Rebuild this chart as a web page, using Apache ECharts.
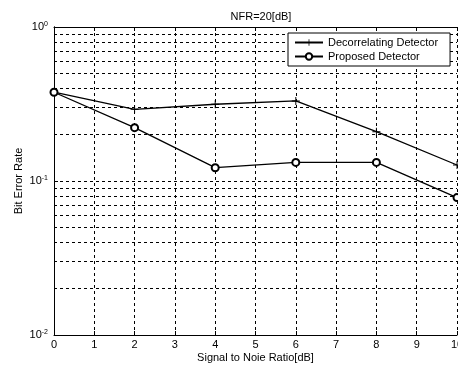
<!DOCTYPE html>
<html>
<head>
<meta charset="utf-8">
<script src="https://cdn.jsdelivr.net/npm/echarts@6/dist/echarts.min.js"></script>
<style>
  html, body { margin: 0; padding: 0; background: #fff; }
  #chart { width: 458px; height: 371px; }
</style>
</head>
<body>
<div id="chart"></div>
<script>
// SNR points (dB)
const snr = [0, 2, 4, 6, 8, 10];
// bit error rate
const decorrelating = [0.378, 0.292, 0.315, 0.331, 0.209, 0.127];
const proposed = [0.377, 0.222, 0.122, 0.132, 0.132, 0.078];
// log grid lines (minor decades)
const yGridValues = [0.02, 0.03, 0.04, 0.05, 0.06, 0.07, 0.08, 0.09, 0.1,
                     0.2, 0.3, 0.4, 0.5, 0.6, 0.7, 0.8, 0.9];
const seriesNames = ['Decorrelating Detector', 'Proposed Detector'];

const font = 'Liberation Sans, Arial, sans-serif';
const dash = [3, 3];

const chart = echarts.init(document.getElementById('chart'), null, {renderer: 'canvas'});

const plus = 'path://M4.4,0H5.6V4.4H10V5.6H5.6V10H4.4V5.6H0V4.4H4.4Z';

chart.setOption({
    backgroundColor: '#fff',
    animation: false,
    title: {
        text: 'NFR=20[dB]',
        left: 256,
        top: 6,
        textAlign: 'center',
        textStyle: {fontFamily: font, fontSize: 11, fontWeight: 'normal', color: '#000'}
    },
    legend: {
        data: seriesNames,
        orient: 'vertical',
        left: 288,
        top: 33,
        z: 20,
        padding: [4, 12, 4, 6],
        itemGap: 3,
        itemWidth: 28,
        itemHeight: 8,
        borderColor: '#000',
        borderWidth: 1,
        borderRadius: 0,
        backgroundColor: '#fff',
        textStyle: {fontFamily: font, fontSize: 11, color: '#000'}
    },
    grid: {left: 54, right: 1, top: 27, bottom: 36, outerBoundsMode: 'none'},
    xAxis: [{
        type: 'value',
        min: 0,
        max: 10,
        interval: 1,
        name: 'Signal to Noie Ratio[dB]',
        nameLocation: 'middle',
        nameGap: 17,
        nameMoveOverlap: false,
        nameTextStyle: {fontFamily: font, fontSize: 11, color: '#000'},
        axisLine: {lineStyle: {color: '#000', width: 1}},
        axisTick: {inside: true, length: 4, lineStyle: {color: '#000'}},
        axisLabel: {fontFamily: font, fontSize: 11, color: '#000', margin: 4},
        splitLine: {show: true, lineStyle: {color: '#000', type: dash, width: 1}}
    }, {
        type: 'value',
        position: 'top',
        min: 0,
        max: 10,
        interval: 1,
        axisLine: {show: true, lineStyle: {color: '#000', width: 1}},
        axisTick: {show: true, inside: true, length: 4, lineStyle: {color: '#000'}},
        axisLabel: {show: false},
        splitLine: {show: false}
    }],
    yAxis: [{
        type: 'log',
        logBase: 10,
        min: 0.01,
        max: 1,
        name: 'Bit Error Rate',
        nameLocation: 'middle',
        nameGap: 30,
        nameMoveOverlap: false,
        nameTextStyle: {fontFamily: font, fontSize: 11, color: '#000'},
        axisLine: {show: true, lineStyle: {color: '#000', width: 1}},
        axisTick: {show: true, inside: true, length: 4, lineStyle: {color: '#000'}},
        axisLabel: {
            margin: 6,
            formatter: v => '{b|10}{s|' + Math.round(Math.log10(v)) + '}',
            rich: {
                b: {fontFamily: font, fontSize: 11, color: '#000'},
                s: {fontFamily: font, fontSize: 7, color: '#000', verticalAlign: 'top', padding: [0, 0, 6, 0]}
            }
        },
        splitLine: {show: false}
    }, {
        type: 'log',
        logBase: 10,
        min: 0.01,
        max: 1,
        position: 'right',
        axisLine: {show: true, lineStyle: {color: '#000', width: 1}},
        axisTick: {show: false},
        axisLabel: {show: false},
        splitLine: {show: false}
    }],
    series: [{
        name: 'grid',
        type: 'line',
        data: [],
        silent: true,
        z: 1,
        markLine: {
            silent: true,
            symbol: 'none',
            z: 1,
            label: {show: false},
            lineStyle: {color: '#000', type: dash, width: 1},
            data: yGridValues.map(v => ({yAxis: v}))
        }
    }, {
        name: seriesNames[0],
        type: 'line',
        data: snr.map((x, i) => [x, decorrelating[i]]),
        symbol: plus,
        symbolSize: 8,
        lineStyle: {color: '#000', width: 1.3},
        itemStyle: {color: '#000'}
    }, {
        name: seriesNames[1],
        type: 'line',
        data: snr.map((x, i) => [x, proposed[i]]),
        symbol: 'emptyCircle',
        symbolSize: 7,
        lineStyle: {color: '#000', width: 1.3},
        itemStyle: {color: '#000', borderColor: '#000', borderWidth: 1.2}
    }]
});
</script>
</body>
</html>
